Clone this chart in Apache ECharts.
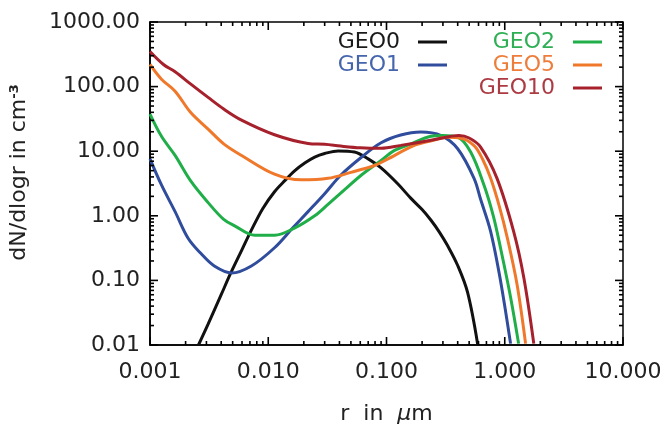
<!DOCTYPE html>
<html>
<head>
<meta charset="utf-8">
<script src="https://cdn.jsdelivr.net/npm/echarts@6/dist/echarts.min.js"></script>
<style>
  html, body { margin: 0; padding: 0; background: #fff; }
  #chart { width: 668px; height: 430px; }
</style>
</head>
<body>
<div id="chart"></div>
<script>
// size distributions (r in um, dN/dlogr in cm^-3)
const seriesNames = ['GEO0', 'GEO1', 'GEO2', 'GEO5', 'GEO10'];
const lineColors = ['#111111', '#2f4d9c', '#1fae48', '#f0782a', '#a6212b'];
const textColors = ['#1a1a1a', '#4565ad', '#2faf55', '#ee7d3c', '#ac3a43'];

const geo0R = [0.00257, 0.0031, 0.004, 0.0048, 0.006, 0.0072, 0.009, 0.0113, 0.0138, 0.0168, 0.0205, 0.0247, 0.03, 0.039, 0.0535, 0.07, 0.09, 0.125, 0.161, 0.2, 0.237, 0.28, 0.33, 0.4, 0.485, 0.59];
const geo0N = [0.01, 0.021, 0.06, 0.128, 0.3, 0.6, 1.3, 2.36, 3.5, 5.0, 6.6, 8.1, 9.2, 10.1, 9.7, 7.6, 5.5, 3.1, 1.86, 1.25, 0.86, 0.56, 0.34, 0.17, 0.065, 0.0103];

const geo1R = [0.001, 0.00125, 0.00163, 0.0021, 0.0027, 0.0035, 0.0049, 0.0072, 0.0113, 0.016, 0.0217, 0.03, 0.041, 0.061, 0.09, 0.132, 0.195, 0.29, 0.4, 0.55, 0.625, 0.76, 0.92, 1.12];
const geo1N = [7.6, 3.0, 1.16, 0.45, 0.26, 0.167, 0.13, 0.167, 0.32, 0.64, 1.16, 2.2, 4.25, 8.0, 13.5, 17.8, 19.8, 17.4, 10.9, 3.8, 1.8, 0.57, 0.1, 0.0105];

const geo2R = [0.001, 0.00125, 0.00163, 0.0022, 0.0031, 0.0042, 0.0052, 0.0077, 0.0113, 0.0168, 0.0247, 0.032, 0.045, 0.061, 0.09, 0.116, 0.16, 0.237, 0.3, 0.4, 0.515, 0.667, 0.8, 0.92, 1.12, 1.31];
const geo2N = [37.5, 17, 8.6, 3.5, 1.6, 0.88, 0.7, 0.5, 0.5, 0.65, 1.0, 1.5, 2.6, 4.25, 7.2, 10.2, 12.9, 17, 17.5, 16.5, 9.7, 3.0, 1.0, 0.32, 0.055, 0.0105];

const geo5R = [0.001, 0.00125, 0.00163, 0.0022, 0.0031, 0.0042, 0.006, 0.0113, 0.019, 0.032, 0.05, 0.079, 0.1, 0.17, 0.24, 0.33, 0.42, 0.55, 0.65, 0.76, 0.9, 1.05, 1.27, 1.5];
const geo5N = [220, 130, 85, 40, 22, 13, 8.5, 4.4, 3.6, 3.8, 4.7, 6.0, 7.4, 12.2, 14.5, 16.4, 16, 12.2, 7.5, 3.8, 1.4, 0.46, 0.087, 0.0105];

const geo10R = [0.001, 0.0013, 0.00163, 0.0022, 0.0031, 0.0042, 0.006, 0.0113, 0.0217, 0.03, 0.041, 0.06, 0.09, 0.132, 0.25, 0.41, 0.5, 0.625, 0.86, 1.19, 1.45, 1.76];
const geo10N = [350, 220, 170, 110, 68, 45, 30, 18, 13.2, 12.8, 12.0, 11.3, 11.1, 12.3, 15, 17.5, 16, 11.6, 3.8, 0.57, 0.11, 0.0105];

const xTickLabels = ['0.001', '0.010', '0.100', '1.000', '10.000'];
const yTickLabels = ['0.01', '0.10', '1.00', '10.00', '100.00', '1000.00'];

const xMin = 0.001, xMax = 10, yMin = 0.01, yMax = 1000;
const font = 'DejaVu Sans';

const allR = [geo0R, geo1R, geo2R, geo5R, geo10R];
const allN = [geo0N, geo1N, geo2N, geo5N, geo10N];

// tick positions: 1..9 of each decade
const xTickVals = [];
for (let k = -3; k <= 1; k++) {
  for (let m = 1; m < 10; m++) {
    const v = m * Math.pow(10, k);
    if (v <= xMax * 1.0001) xTickVals.push(v);
  }
}
const yTickVals = [];
for (let k = -2; k <= 3; k++) {
  for (let m = 1; m < 10; m++) {
    const v = m * Math.pow(10, k);
    if (v <= yMax * 1.0001) yTickVals.push(v);
  }
}
const isDecade = v => Math.abs(Math.log10(v) - Math.round(Math.log10(v))) < 1e-6;
const majorLen = 8, minorLen = 4;

const legendSlots = [
  { right: 221, top: 31 },
  { right: 221, top: 54 },
  { right: 66, top: 31 },
  { right: 66, top: 54 },
  { right: 66, top: 77 }
];

const chart = echarts.init(document.getElementById('chart'));

chart.setOption({
  animation: false,
  backgroundColor: '#fff',
  grid: { left: 148, right: 45, top: 22, bottom: 82, show: true, borderColor: '#000', borderWidth: 1.5 },
  legend: seriesNames.map((name, i) => ({
    data: [name],
    right: legendSlots[i].right,
    top: legendSlots[i].top,
    orient: 'vertical',
    align: 'right',
    padding: 0,
    icon: 'rect',
    itemWidth: 29,
    itemHeight: 3,
    selectedMode: false,
    textStyle: { color: textColors[i], fontFamily: font, fontSize: 22, padding: [0, 13, 0, 0] }
  })),
  xAxis: {
    type: 'log',
    min: xMin,
    max: xMax,
    interval: 1,
    axisLine: { show: true, lineStyle: { color: '#000', width: 1.5 } },
    axisTick: { show: false },
    splitLine: { show: false },
    axisLabel: {
      margin: 16,
      color: '#222',
      fontFamily: font,
      fontSize: 22,
      formatter: v => xTickLabels[Math.round(Math.log10(v)) + 3]
    },
    name: '{t|r  in  }{mu|\u03bc}{t|m}',
    nameLocation: 'middle',
    nameGap: 58,
    nameTextStyle: {
      rich: {
        t: { fontFamily: font, fontSize: 22, color: '#222' },
        mu: { fontFamily: font, fontSize: 22, fontStyle: 'italic', color: '#222' }
      }
    }
  },
  yAxis: {
    type: 'log',
    min: yMin,
    max: yMax,
    interval: 1,
    axisLine: { show: true, lineStyle: { color: '#000', width: 1.5 } },
    axisTick: { show: false },
    splitLine: { show: false },
    axisLabel: {
      margin: 10,
      color: '#222',
      fontFamily: font,
      fontSize: 22,
      formatter: v => yTickLabels[Math.round(Math.log10(v)) + 2]
    },
    name: '{t|dN/dlogr in cm}{s|-3}',
    nameLocation: 'middle',
    nameGap: 120,
    nameTextStyle: {
      padding: [0, 0, 0, 22],
      rich: {
        t: { fontFamily: font, fontSize: 22, color: '#222' },
        s: { fontFamily: font, fontSize: 13, fontWeight: 'bold', color: '#222', verticalAlign: 'top' }
      }
    }
  },
  series: seriesNames.map((name, i) => ({
    name: name,
    type: 'line',
    data: allR[i].map((r, j) => [r, allN[i][j]]),
    smooth: 0.35,
    showSymbol: false,
    symbol: 'none',
    clip: true,
    color: lineColors[i],
    lineStyle: { color: lineColors[i], width: 3 },
    z: 3 + i
  }))
});

// ticks on all four sides, placed through the axis scales, on their own layer
const tickEls = [];
function tick(x1, y1, x2, y2) {
  tickEls.push({
    type: 'line',
    zlevel: 5,
    z: 100,
    silent: true,
    shape: { x1: x1, y1: y1, x2: x2, y2: y2 },
    style: { stroke: '#000', lineWidth: 1.6 }
  });
}
xTickVals.forEach(v => {
  const len = isDecade(v) ? majorLen : minorLen;
  const b = chart.convertToPixel({ gridIndex: 0 }, [v, yMin]);
  const t = chart.convertToPixel({ gridIndex: 0 }, [v, yMax]);
  tick(b[0], b[1], b[0], b[1] - len);
  tick(t[0], t[1], t[0], t[1] + len);
});
yTickVals.forEach(v => {
  const len = isDecade(v) ? majorLen : minorLen;
  const l = chart.convertToPixel({ gridIndex: 0 }, [xMin, v]);
  const r = chart.convertToPixel({ gridIndex: 0 }, [xMax, v]);
  tick(l[0], l[1], l[0] + len, l[1]);
  tick(r[0], r[1], r[0] - len, r[1]);
});
chart.setOption({ graphic: { elements: tickEls } });
</script>
</body>
</html>
